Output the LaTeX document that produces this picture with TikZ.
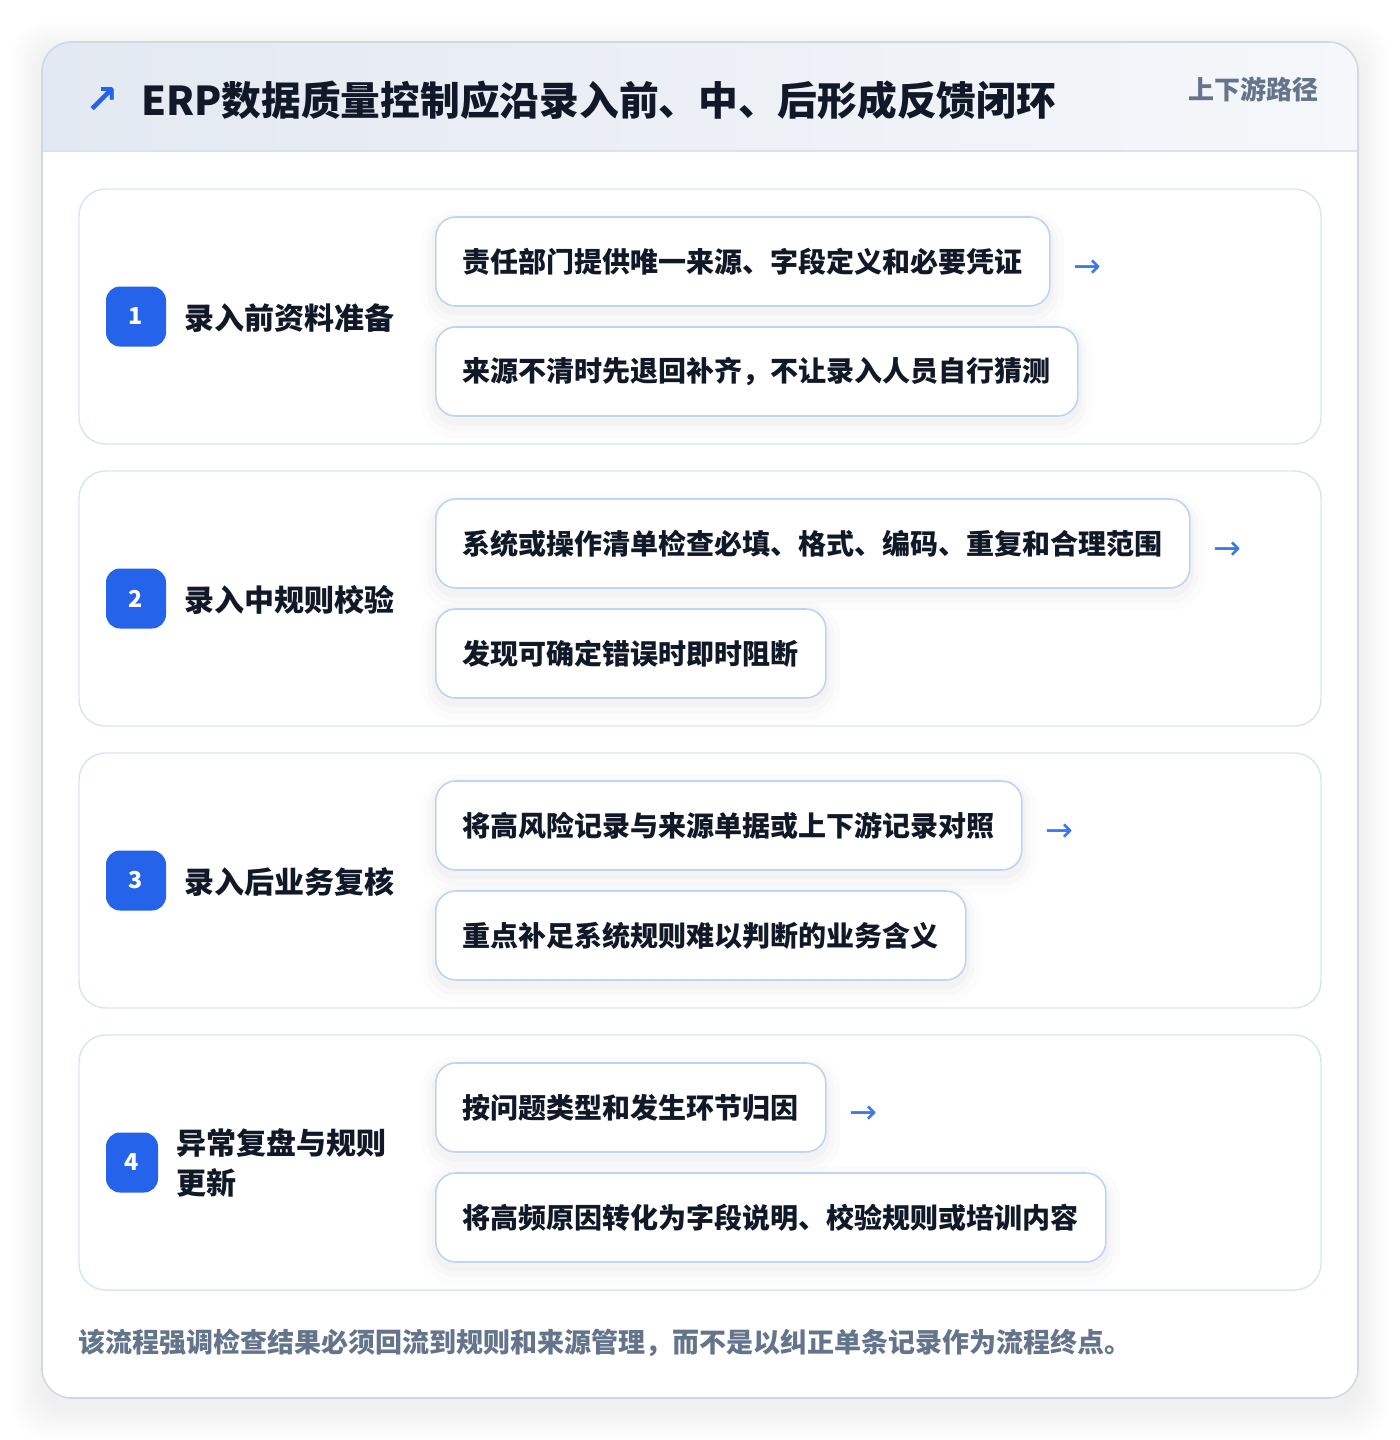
\documentclass[tikz,border=0pt]{standalone}
\usepackage{fontspec}
\setmainfont{Noto Sans CJK SC}
\newfontfamily\symfont{DejaVu Sans}
\definecolor{ink}{HTML}{111827}
\definecolor{muted}{HTML}{64748B}
\definecolor{brand}{HTML}{2563EB}
\definecolor{arrowc}{HTML}{3B78E7}
\definecolor{cardline}{HTML}{D8E5F6}
\definecolor{boxline}{HTML}{BDD4F3}
\definecolor{outerline}{HTML}{D2D8E1}
\definecolor{hdrL}{HTML}{E3E9F2}
\definecolor{hdrR}{HTML}{F5F7FA}
\definecolor{hdrline}{HTML}{D5E3F5}
\tikzset{
  softshadow/.style={
    preaction={draw=black, draw opacity=0.010, line width=22pt, transform canvas={yshift=-6pt}},
    preaction={draw=black, draw opacity=0.014, line width=13pt, transform canvas={yshift=-5pt}},
    preaction={draw=black, draw opacity=0.018, line width=6pt, transform canvas={yshift=-4pt}}},
  sectioncard/.style={draw=cardline, line width=1.1pt, fill=white, rounded corners=20pt},
  itembox/.style={softshadow, draw=boxline, line width=1.2pt, fill=white, rounded corners=15pt,
    inner xsep=20.25pt, inner ysep=0pt, minimum height=66.75pt, anchor=west,
    font=\bfseries\fontsize{21}{25}\selectfont, text=ink},
  badge/.style={fill=brand, rounded corners=10.5pt, minimum width=45pt, minimum height=45pt,
    inner sep=0pt, text=white, font=\bfseries\fontsize{17.5}{18}\selectfont},
  seclabel/.style={anchor=west, inner sep=0pt, text=ink, align=left,
    font=\bfseries\fontsize{22.5}{30}\selectfont},
  nextarrow/.style={anchor=west, inner sep=0pt, text=arrowc, yshift=-5.5pt,
    font=\symfont\fontsize{25}{25}\selectfont},
}
\begin{document}
\begin{tikzpicture}[x=0.75pt,y=-0.75pt]
\useasboundingbox (0,0) rectangle (1400,1440);
\fill[white] (0,0) rectangle (1400,1440);
% outer card shadow
\foreach \i in {2,4,...,30}{
  \fill[black, opacity=0.005, rounded corners=22pt] (42-\i,42-\i+10) rectangle (1358+\i,1398+\i+10);
}
\path[fill=white, rounded corners=22pt] (42,42) rectangle (1358,1398);
\begin{scope}
  \clip[rounded corners=22pt] (42,42) rectangle (1358,1398);
  \shade[left color=hdrL, right color=hdrR] (42,42) rectangle (1358,151);
  \draw[hdrline, line width=1pt] (42,151) -- (1358,151);
\end{scope}
\draw[outerline, line width=1.2pt, rounded corners=22pt] (42,42) rectangle (1358,1398);

% header
\node[anchor=center, inner sep=0pt, text=brand, font=\symfont\bfseries\fontsize{30}{30}\selectfont] (icon) at (102,100) {↗};
\node[anchor=west, inner sep=0pt, text=ink, font=\bfseries\fontsize{29.8}{34}\selectfont] (title) at (141,100)
  {ERP数据质量控制应沿录入前、中、后形成反馈闭环};
\node[anchor=west, inner sep=0pt, text=muted, font=\bfseries\fontsize{19.5}{22}\selectfont] (path) at (1188,89) {上下游路径};

% section 1
\draw[sectioncard] (79,189) rectangle (1321,444);
\node[badge] (n1) at (136,316.5) {1};
\node[seclabel] (l1) at (184,318) {录入前资料准备};
\node[itembox] (a1) at (435,261.5) {责任部门提供唯一来源、字段定义和必要凭证};
\node[itembox] (b1) at (435,371.5) {来源不清时先退回补齐，不让录入人员自行猜测};
\node[nextarrow] (r1) at ([xshift=17pt]a1.east) {→};

% section 2
\draw[sectioncard] (79,471) rectangle (1321,726);
\node[badge] (n2) at (136,598.5) {2};
\node[seclabel] (l2) at (184,600) {录入中规则校验};
\node[itembox] (a2) at (435,543.5) {系统或操作清单检查必填、格式、编码、重复和合理范围};
\node[itembox] (b2) at (435,653.5) {发现可确定错误时即时阻断};
\node[nextarrow] (r2) at ([xshift=17pt]a2.east) {→};

% section 3
\draw[sectioncard] (79,753) rectangle (1321,1008);
\node[badge] (n3) at (136,880.5) {3};
\node[seclabel] (l3) at (184,882) {录入后业务复核};
\node[itembox] (a3) at (435,825.5) {将高风险记录与来源单据或上下游记录对照};
\node[itembox] (b3) at (435,935.5) {重点补足系统规则难以判断的业务含义};
\node[nextarrow] (r3) at ([xshift=17pt]a3.east) {→};

% section 4
\draw[sectioncard] (79,1035) rectangle (1321,1290);
\node[badge, minimum width=39pt] (n4) at (132,1162.5) {4};
\node[seclabel] (l4) at (176,1163) {异常复盘与规则\\更新};
\node[itembox] (a4) at (435,1107.5) {按问题类型和发生环节归因};
\node[itembox] (b4) at (435,1217.5) {将高频原因转化为字段说明、校验规则或培训内容};
\node[nextarrow] (r4) at ([xshift=17pt]a4.east) {→};

% footer
\node[anchor=west, inner sep=0pt, text=muted, font=\bfseries\fontsize{20.25}{23}\selectfont] (foot) at (78,1343)
  {该流程强调检查结果必须回流到规则和来源管理，而不是以纠正单条记录作为流程终点。};
\end{tikzpicture}
\end{document}
